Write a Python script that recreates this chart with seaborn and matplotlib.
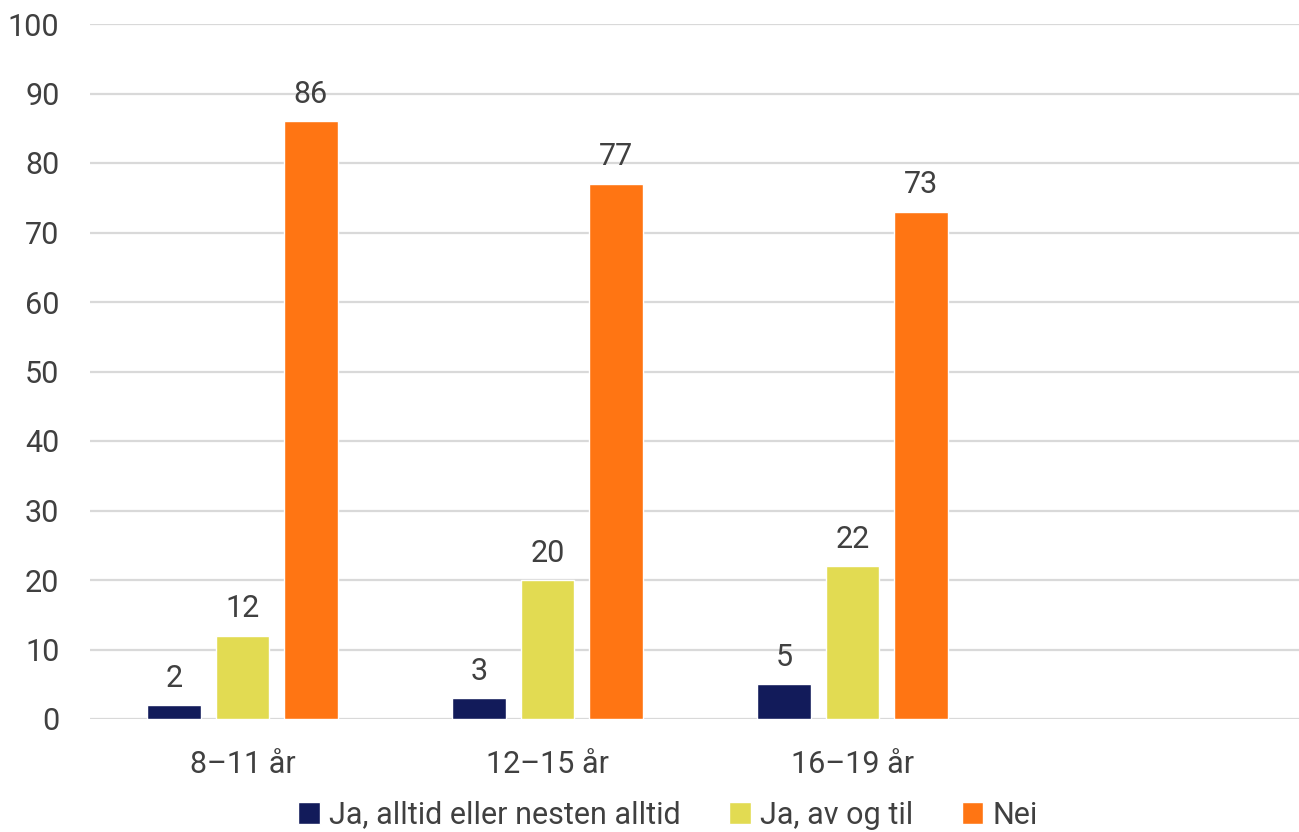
import matplotlib
matplotlib.use("Agg")
import matplotlib.pyplot as plt
import seaborn as sns
import pandas as pd

# data
groups = ["8–11 år", "12–15 år", "16–19 år"]
series = ["Ja, alltid eller nesten alltid", "Ja, av og til", "Nei"]
alltid = [2, 3, 5]
av_og_til = [12, 20, 22]
nei = [86, 77, 73]
colors = ["#121B5A", "#E2DB52", "#FF7513"]
yticks = [0, 10, 20, 30, 40, 50, 60, 70, 80, 90, 100]

df = pd.DataFrame({
    "gruppe": groups * 3,
    "svar": [series[0]] * 3 + [series[1]] * 3 + [series[2]] * 3,
    "prosent": alltid + av_og_til + nei,
})

sns.set_theme(style="white")
plt.rcParams["font.family"] = ["Roboto", "DejaVu Sans"]
text_col = "#404040"

fig = plt.figure(figsize=(12.99, 8.32), dpi=100)
ax = fig.add_axes([90 / 1299, 113 / 832, 1220 / 1299, 695 / 832])

sns.barplot(data=df, x="gruppe", y="prosent", hue="svar", order=groups,
            hue_order=series, palette=colors, width=0.67, gap=0.21,
            saturation=1, ax=ax, legend=True)

for cont in ax.containers:
    ax.bar_label(cont, padding=9, fontsize=22, color=text_col)

ax.set_xlim(-0.5, 3.5)
ax.set_ylim(0, 100)
ax.set_yticks(yticks)
ax.yaxis.grid(True, color="#d9d9d9", linewidth=1.6)
ax.set_axisbelow(True)
for s in ax.spines.values():
    s.set_visible(False)
ax.set_xlabel("")
ax.set_ylabel("")
ax.tick_params(axis="both", length=0, labelsize=22, labelcolor=text_col)
ax.tick_params(axis="x", pad=22)
ax.tick_params(axis="y", pad=22)

ax.legend(loc="center", bbox_to_anchor=(668 / 1299, 1 - 815 / 832),
          bbox_transform=fig.transFigure, ncol=3, frameon=False,
          fontsize=22, labelcolor=text_col, handlelength=0.7,
          handleheight=0.7, handletextpad=0.3, columnspacing=1.6,
          borderpad=0)

fig.savefig("out.png", dpi=100)
